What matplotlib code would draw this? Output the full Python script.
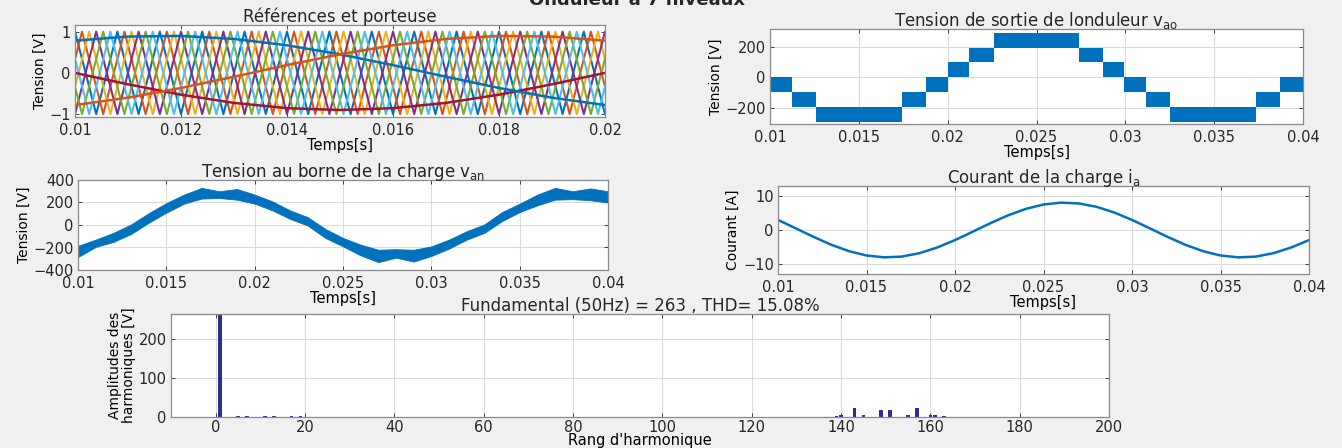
"""
plot.py

Onduleur 7 niveaux : porteuses, tensions, courant et spectre
"""

import numpy as np
import matplotlib
matplotlib.use("Agg")
import matplotlib.pyplot as plt


# --- references et porteuses (0.01 - 0.02 s) ---
ref_t = [0.010, 0.011, 0.012, 0.013, 0.014, 0.015, 0.016, 0.017, 0.018, 0.019, 0.020]
ref_a = [0.0, -0.278, -0.529, -0.728, -0.856, -0.90, -0.856, -0.728, -0.529, -0.278, 0.0]
ref_b = [0.78, 0.88, 0.895, 0.822, 0.669, 0.45, 0.187, -0.094, -0.366, -0.602, -0.78]
ref_c = [-0.78, -0.602, -0.366, -0.094, 0.187, 0.45, 0.669, 0.822, 0.895, 0.88, 0.78]

carrier_t = [0.0092, 0.0096, 0.0100, 0.0104, 0.0108, 0.0112, 0.0116, 0.0120, 0.0124, 0.0128,
             0.0132, 0.0136, 0.0140, 0.0144, 0.0148, 0.0152, 0.0156, 0.0160, 0.0164, 0.0168,
             0.0172, 0.0176, 0.0180, 0.0184, 0.0188, 0.0192, 0.0196, 0.0200, 0.0204, 0.0208]
carrier_v = [1, -1] * 15
carrier_shift = [0.0, 0.000133, 0.000267, 0.0004, 0.000533, 0.000667]

# --- tension de sortie v_ao : paliers (bande de commutation entre deux niveaux) ---
vao_edges = [0.0100, 0.01125, 0.0126, 0.01743, 0.0188, 0.0200, 0.0212, 0.0226,
             0.02738, 0.02877, 0.0299, 0.03116, 0.03251, 0.03733, 0.0387, 0.0400]
vao_low = [-97, -194, -290, -194, -97, 0, 97, 194, 97, 0, -97, -194, -290, -194, -97]
vao_high = [0, -97, -194, -97, 0, 97, 194, 290, 194, 97, 0, -97, -194, -97, 0]

# --- tension de charge v_an : enveloppe basse / haute ---
van_t = [0.010, 0.011, 0.012, 0.013, 0.014, 0.015, 0.016, 0.017, 0.018, 0.019, 0.020,
         0.021, 0.022, 0.023, 0.024, 0.025, 0.026, 0.027, 0.028, 0.029, 0.030,
         0.031, 0.032, 0.033, 0.034, 0.035, 0.036, 0.037, 0.038, 0.039, 0.040]
van_low = [-285, -195, -150, -80, 20, 110, 190, 235, 240, 225, 190,
           130, 55, -5, -115, -190, -270, -330, -290, -325, -275,
           -210, -130, -70, 35, 115, 175, 225, 230, 220, 200]
van_high = [-185, -130, -70, 5, 105, 195, 270, 330, 300, 320, 270,
            210, 130, 70, -35, -115, -175, -220, -215, -220, -190,
            -130, -55, 5, 115, 190, 270, 330, 300, 325, 300]

# --- courant de charge i_a ---
ia_t = van_t
ia = [2.98, 0.51, -2.01, -4.34, -6.24, -7.53, -8.08, -7.85, -6.84, -5.16, -2.98,
      -0.51, 2.01, 4.34, 6.24, 7.53, 8.08, 7.85, 6.84, 5.16, 2.98,
      0.51, -2.01, -4.34, -6.24, -7.53, -8.08, -7.85, -6.84, -5.16, -2.98]

# --- spectre ---
harm_order = [1, 5, 7, 11, 13, 17, 19, 137, 139, 140, 143, 145, 149, 151, 155, 157, 160, 161, 163]
harm_amp = [263, 1.5, 1.5, 1.5, 1.5, 1.5, 1.5, 1, 3.5, 4, 22, 6, 19, 19, 5, 22, 4, 5, 1.5]

matlab_colors = ['#0072BD', '#D95319', '#EDB120', '#7E2F8E', '#77AC30', '#4DBEEE', '#A2142F']

plt.rcParams['font.family'] = ['DejaVu Sans']
plt.rcParams['mathtext.fontset'] = 'dejavusans'
plt.rcParams['xtick.direction'] = 'in'
plt.rcParams['ytick.direction'] = 'in'
plt.rcParams['xtick.labelsize'] = 10.5
plt.rcParams['ytick.labelsize'] = 10.5
plt.rcParams['axes.edgecolor'] = '#8a8a8a'
plt.rcParams['text.color'] = '#262626'
plt.rcParams['xtick.color'] = '#262626'
plt.rcParams['ytick.color'] = '#262626'

W, H = 1342, 448
fig = plt.figure(figsize=(W / 100, H / 100), dpi=100, facecolor='#F0F0F0')


def box(l, r, t, b):
    return [l / W, 1 - b / H, (r - l) / W, (b - t) / H]


def style(ax):
    ax.grid(True, color='#dcdcdc', lw=0.8)
    ax.set_axisbelow(True)
    ax.tick_params(length=3, width=0.6, top=True, right=True,
                   labeltop=False, labelright=False)
    ax.tick_params(axis='x', pad=4)
    ax.tick_params(axis='y', pad=3)
    for s in ax.spines.values():
        s.set_linewidth(0.9)


time_ticks = [0.01, 0.015, 0.02, 0.025, 0.03, 0.035, 0.04]
time_labels = ['0.01', '0.015', '0.02', '0.025', '0.03', '0.035', '0.04']

# 1) references et porteuse
ax1 = fig.add_axes(box(75, 605, 25, 117))
for k, sh in enumerate(carrier_shift):
    ax1.plot(np.array(carrier_t) + sh, carrier_v, color=matlab_colors[k], lw=1.5)
ax1.plot(ref_t, ref_a, color=matlab_colors[6], lw=1.8)
ax1.plot(ref_t, ref_b, color=matlab_colors[0], lw=1.8)
ax1.plot(ref_t, ref_c, color=matlab_colors[1], lw=1.8)
ax1.set_xlim(0.01, 0.02)
ax1.set_ylim(-1.07, 1.16)
ax1.set_xticks([0.01, 0.012, 0.014, 0.016, 0.018, 0.02])
ax1.set_xticklabels(['0.01', '0.012', '0.014', '0.016', '0.018', '0.02'])
ax1.set_yticks([-1, 0, 1])
ax1.set_title('Références et porteuse', fontsize=12, pad=2)
ax1.set_xlabel('Temps[s]', fontsize=10.5, labelpad=0)
ax1.set_ylabel('Tension [V]', fontsize=10, labelpad=2)
style(ax1)
ax1.grid(False)

# 2) tension de sortie de l'onduleur
ax2 = fig.add_axes(box(770, 1303, 29, 124))
ax2.fill_between(vao_edges, vao_low + [vao_low[-1]], vao_high + [vao_high[-1]],
                 step='post', color=matlab_colors[0], lw=0)
ax2.set_xlim(0.01, 0.04)
ax2.set_ylim(-305, 315)
ax2.set_xticks(time_ticks)
ax2.set_xticklabels(time_labels)
ax2.set_yticks([-200, 0, 200])
ax2.set_title('Tension de sortie de londuleur v$_{\\mathrm{ao}}$', fontsize=12, pad=2)
ax2.set_xlabel('Temps[s]', fontsize=10.5, labelpad=0)
ax2.set_ylabel('Tension [V]', fontsize=10, labelpad=2)
style(ax2)

# 3) tension au borne de la charge
ax3 = fig.add_axes(box(78, 608, 180, 270))
ax3.fill_between(van_t, van_low, van_high, color=matlab_colors[0], lw=0.6,
                 edgecolor=matlab_colors[0])
ax3.set_xlim(0.01, 0.04)
ax3.set_ylim(-400, 400)
ax3.set_xticks(time_ticks)
ax3.set_xticklabels(time_labels)
ax3.set_yticks([-400, -200, 0, 200, 400])
ax3.set_title('Tension au borne de la charge v$_{\\mathrm{an}}$', fontsize=12, pad=2)
ax3.set_xlabel('Temps[s]', fontsize=10.5, labelpad=0)
ax3.set_ylabel('Tension [V]', fontsize=10, labelpad=2)
style(ax3)

# 4) courant de la charge
ax4 = fig.add_axes(box(778, 1309, 186, 274))
ax4.plot(ia_t, ia, color=matlab_colors[0], lw=1.8)
ax4.set_xlim(0.01, 0.04)
ax4.set_ylim(-13, 13)
ax4.set_xticks(time_ticks)
ax4.set_xticklabels(time_labels)
ax4.set_yticks([-10, 0, 10])
ax4.set_title('Courant de la charge i$_{\\mathrm{a}}$', fontsize=12, pad=2)
ax4.set_xlabel('Temps[s]', fontsize=10.5, labelpad=0)
ax4.set_ylabel('Courant [A]', fontsize=10, labelpad=2)
style(ax4)

# 5) spectre harmonique
ax5 = fig.add_axes(box(171, 1109, 314, 417))
ax5.bar(harm_order, harm_amp, width=0.8, color='#2E2E90')
ax5.set_xlim(-10, 200)
ax5.set_ylim(0, 265)
ax5.set_xticks(range(0, 201, 20))
ax5.set_yticks([0, 100, 200])
ax5.set_title('Fundamental (50Hz) = 263 , THD= 15.08%', fontsize=12, pad=2)
ax5.set_ylabel('Amplitudes des\nharmoniques [V]', fontsize=10, labelpad=2, linespacing=0.95)
style(ax5)
ax5.tick_params(axis='x', pad=2)
ax5.set_xlabel("Rang d'harmonique", fontsize=10.5, labelpad=-1)

# titre general (coupe en haut de l'image, comme dans la figure d'origine)
fig.text(0.475, 0.989, 'Onduleur à 7 niveaux', ha='center', va='baseline',
         fontsize=13, fontweight='bold')

fig.savefig('out.png', dpi=100, facecolor=fig.get_facecolor())
